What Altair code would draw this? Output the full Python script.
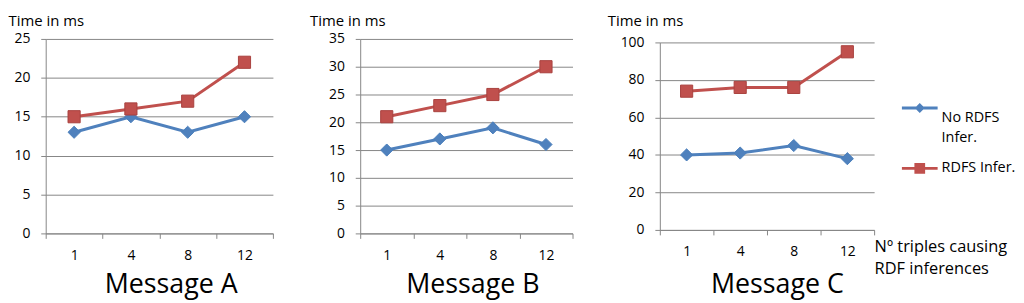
import altair as alt
import pandas as pd

categories = ["1", "4", "8", "12"]
series_names = ["No RDFS Infer.", "RDFS Infer."]
a_no_rdfs = [13, 15, 13, 15]
a_rdfs = [15, 16, 17, 22]
b_no_rdfs = [15, 17, 19, 16]
b_rdfs = [21, 23, 25, 30]
c_no_rdfs = [40, 41, 45, 38]
c_rdfs = [74, 76, 76, 95]
panel_titles = ["Message A", "Message B", "Message C"]
y_title = "Time in ms"
x_title_lines = ["Nº triples causing", "RDF inferences"]
y_max = [25, 35, 100]
y_step = [5, 5, 20]

colors = ["#4F81BD", "#C0504D"]
strokes = ["#4A7EBB", "#A9423F"]
FONT = "Open Sans"

# legend symbols: line with marker (custom paths, unit = half symbol width)
leg_no = ("M-1,-0.63 L1,-0.63 L1,-0.47 L-1,-0.47 Z "
          "M0,-0.83 L0.28,-0.55 L0,-0.27 L-0.28,-0.55 Z")
leg_rd = ("M-1,-0.08 L1,-0.08 L1,0.08 L-1,0.08 Z "
          "M-0.3,-0.3 L0.3,-0.3 L0.3,0.3 L-0.3,0.3 Z")


def frame(no, rd):
    rows = []
    for i, c in enumerate(categories):
        rows.append({"triples": c, "series": series_names[0], "ms": no[i]})
    for i, c in enumerate(categories):
        rows.append({"triples": c, "series": series_names[1], "ms": rd[i]})
    return pd.DataFrame(rows)


def panel(df, idx, w, h, ytx, yty, mtx, mty, last=False):
    ymax = y_max[idx]
    xscale = alt.Scale(type="band", paddingInner=0, paddingOuter=0)
    x_main = alt.X(
        "triples:O", sort=categories, scale=xscale,
        axis=alt.Axis(
            title=panel_titles[idx], tickBand="extent", labelAngle=0,
            labelPadding=10, grid=False,
            titleX=mtx, titleY=mty, titleAlign="center",
            titleBaseline="alphabetic", titleFontSize=27,
        ),
    )
    y_enc = alt.Y(
        "ms:Q",
        scale=alt.Scale(domain=[0, ymax], nice=False, zero=True),
        axis=alt.Axis(
            values=list(range(0, ymax + 1, y_step[idx])), title=y_title,
            titleAngle=0, titleX=ytx, titleY=yty, titleAlign="left",
            titleBaseline="alphabetic", titleFontSize=15, labelPadding=11,
            grid=True,
        ),
    )
    color_enc = alt.Color("series:N", scale=alt.Scale(domain=series_names, range=colors), legend=None)
    stroke_enc = alt.Stroke("series:N", scale=alt.Scale(domain=series_names, range=strokes), legend=None)
    shape_enc = alt.Shape("series:N", scale=alt.Scale(domain=series_names, range=["diamond", "square"]), legend=None)

    base = alt.Chart(df)
    lines = base.mark_line(strokeWidth=3).encode(x=x_main, y=y_enc, color=color_enc)
    if last:
        x_pts = alt.X(
            "triples:O", sort=categories, scale=xscale,
            axis=alt.Axis(
                orient="top", title=x_title_lines, labels=False, ticks=False,
                domain=False, grid=False, titleX=w, titleY=h + 22,
                titleAlign="left", titleBaseline="alphabetic",
                titleFontSize=16.5, titleLineHeight=22,
            ),
        )
    else:
        x_pts = x_main
    points = base.mark_point(filled=True, size=150, strokeWidth=1, opacity=1).encode(
        x=x_pts, y=y_enc, color=color_enc, stroke=stroke_enc, shape=shape_enc
    )
    layers = [lines, points]
    if last:
        leg = dict(
            title=None, orient="none", legendX=w + 28, legendY=58,
            symbolSize=1296, symbolStrokeWidth=0, symbolOpacity=1,
            labelFont=FONT, labelFontSize=14.5, labelColor="#000",
            labelOffset=4, rowPadding=6, padding=0,
            labelExpr="datum.label == 'No RDFS Infer.' ? ['No RDFS', 'Infer.'] : datum.label",
        )
        legend_layer = base.transform_filter("false").mark_point(filled=True).encode(
            color=alt.Color("series:N", scale=alt.Scale(domain=series_names, range=colors), legend=alt.Legend(**leg)),
            shape=alt.Shape("series:N", scale=alt.Scale(domain=series_names, range=[leg_no, leg_rd]), legend=alt.Legend(**leg)),
        )
        layers.append(legend_layer)
    ch = alt.layer(*layers).properties(width=w, height=h)
    if last:
        ch = ch.resolve_scale(color="independent", shape="independent", stroke="independent").resolve_axis(x="independent")
    return ch


pa = panel(frame(a_no_rdfs, a_rdfs), 0, 229, 196, -38, -14, 126, 60)
pb = panel(frame(b_no_rdfs, b_rdfs), 1, 214, 196, -51, -14, 113, 60)
pc = panel(frame(c_no_rdfs, c_rdfs), 2, 216, 189, -53, -17.5, 118, 63.5, last=True)

chart = (
    alt.hconcat(pa, pb, pc, spacing=88, bounds="flush", center=True)
    .resolve_scale(color="independent", shape="independent", stroke="independent")
    .resolve_legend(color="independent", shape="independent", stroke="independent")
    .properties(padding={"left": 0, "top": 4, "right": 0, "bottom": 8})
    .configure(font=FONT, style={"guide-label": {"lineHeight": 20}})
    .configure_axis(
        labelFont=FONT, labelFontSize=14, labelColor="#000",
        titleFont=FONT, titleColor="#000", titleFontWeight="normal",
        domainColor="#868686", tickColor="#868686", gridColor="#868686",
        tickSize=5, domainWidth=1, tickWidth=1, gridWidth=1,
    )
    .configure_view(stroke=None)
)

chart.save("out.html", embed_options={"renderer": "svg", "actions": False})
